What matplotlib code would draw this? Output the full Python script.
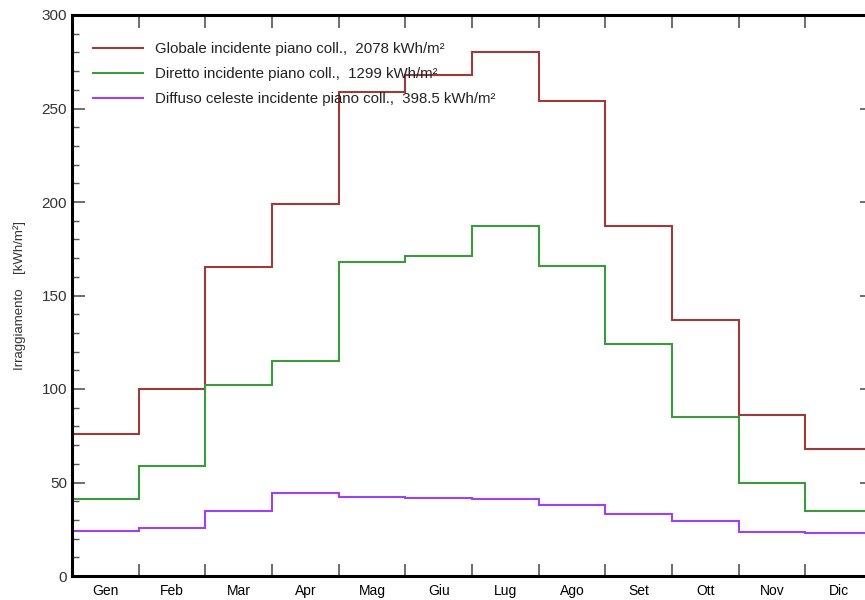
import numpy as np
import matplotlib
matplotlib.use("Agg")
from matplotlib import pyplot as plt
from matplotlib.ticker import MultipleLocator

# Monthly values, kWh/m2
months = ["Gen", "Feb", "Mar", "Apr", "Mag", "Giu", "Lug", "Ago", "Set", "Ott", "Nov", "Dic"]
globale = [76, 100, 165, 199, 259, 268, 280, 254, 187, 137, 86, 68]
diretto = [41, 59, 102, 115, 168, 171, 187, 166, 124, 85, 50, 35]
diffuso = [24, 25.5, 34.5, 44.5, 42, 41.5, 41, 38, 33, 29.5, 23.5, 23]
labels = ["Globale incidente piano coll.,  2078 kWh/m\u00b2",
          "Diretto incidente piano coll.,  1299 kWh/m\u00b2",
          "Diffuso celeste incidente piano coll.,  398.5 kWh/m\u00b2"]
colors = ["#a03a3a", "#3c9a3c", "#a040f5"]

plt.rcParams['font.family'] = ['Liberation Sans', 'DejaVu Sans']

fig = plt.figure(figsize=(8.65, 6.0), dpi=100)
ax = fig.add_axes([72 / 865, 24 / 600, 800 / 865, 561 / 600])

edges = np.arange(len(months) + 1)
for vals, lab, col in zip([globale, diretto, diffuso], labels, colors):
    ax.stairs(vals, edges, baseline=None, color=col, linewidth=1.5, label=lab)

ax.set_xlim(0, 12)
ax.set_ylim(0, 300)

# month boundaries as ticks, month names centred in between
ax.set_xticks(edges)
ax.set_xticklabels([])
ax.set_xticks(edges[:-1] + 0.5, minor=True)
ax.set_xticklabels(months, minor=True)
ax.tick_params(axis='x', which='minor', length=0, pad=6)
ax.tick_params(axis='x', which='major', direction='in', length=9, width=1.2,
               top=True, color='#555555')

ax.yaxis.set_major_locator(MultipleLocator(50))
ax.yaxis.set_minor_locator(MultipleLocator(10))
ax.tick_params(axis='y', which='major', direction='in', length=9, width=1.2,
               right=True, color='#555555')
ax.tick_params(axis='y', which='minor', direction='in', length=5, width=1.0,
               right=True, color='#555555')
ax.tick_params(labelsize=11, labelcolor='#333333')

for sp in ax.spines.values():
    sp.set_linewidth(2.2)

ax.set_ylabel("Irraggiamento    [kWh/m\u00b2]", fontsize=9.5, color='#333333', labelpad=11)

ax.legend(loc='upper left', frameon=False, fontsize=10.8, handlelength=3.3,
          handletextpad=0.8, labelspacing=0.74, borderaxespad=0,
          labelcolor='#222222', bbox_to_anchor=(0.019, 0.963))

fig.savefig("out.png", dpi=100)
